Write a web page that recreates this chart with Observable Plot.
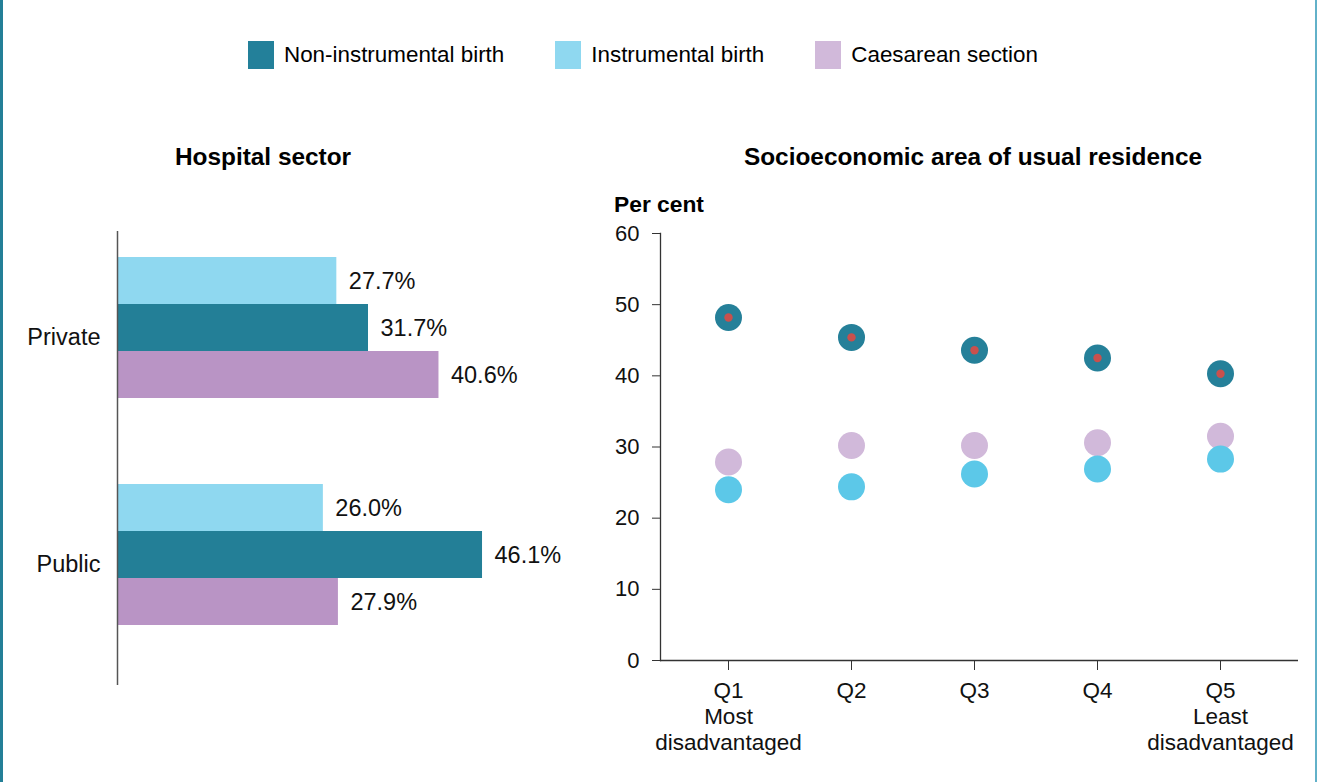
<!DOCTYPE html>
<html><head><meta charset="utf-8">
<script src="https://cdn.jsdelivr.net/npm/d3@7"></script>
<script src="https://cdn.jsdelivr.net/npm/@observablehq/plot@0.6"></script>
<style>
html,body{margin:0;padding:0;background:#fff;}
#root{position:relative;width:1317px;height:782px;overflow:hidden;font-family:"Liberation Sans",Arial,sans-serif;color:#000;background:#fff;}
.abs{position:absolute;}
.edgeL{left:0;top:0;width:3px;height:782px;background:#237f97;}
.edgeR{left:1315px;top:0;width:2px;height:782px;background:#62b1c9;}
#legend{left:248px;top:41px;display:flex;gap:51px;align-items:center;font-size:22.4px;}
.item{display:flex;align-items:center;gap:10px;}
.sw{width:26px;height:28px;}
.title{font-weight:bold;font-size:24.4px;text-align:center;transform:translateX(-50%);white-space:nowrap;}
.plot{position:absolute;top:0;}
</style></head>
<body><div id="root">
<div class="abs edgeL"></div><div class="abs edgeR"></div>
<div id="legend" class="abs"></div>
<div class="abs title" style="left:263px;top:143px;">Hospital sector</div>
<div class="abs title" style="left:973px;top:143px;">Socioeconomic area of usual residence</div>
<div class="abs" style="left:614px;top:191px;font-weight:bold;font-size:22.8px;">Per cent</div>
<div id="left" class="plot" style="left:0;"></div>
<div id="right" class="plot" style="left:600px;"></div>
</div>
<script>
// ---- data ----
const series = ["Non-instrumental birth", "Instrumental birth", "Caesarean section"];
const legendColors = ["#23809a", "#8fd8f0", "#d1b9da"];
const barColors = ["#237f97", "#8fd8f0", "#b994c5"];
const dotColors = ["#258099", "#5cc8e8", "#d1b9da"];
const markerColor = "#c9504d";

const sectors = ["Private", "Public"];
const sectorNonInstrumental = [31.7, 46.1];
const sectorInstrumental = [27.7, 26.0];
const sectorCaesarean = [40.6, 27.9];
const barOrder = ["Instrumental birth", "Non-instrumental birth", "Caesarean section"];

const quintiles = ["Q1", "Q2", "Q3", "Q4", "Q5"];
const quintileLabels = ["Q1\nMost\ndisadvantaged", "Q2", "Q3", "Q4", "Q5\nLeast\ndisadvantaged"];
const quintNonInstrumental = [48.2, 45.4, 43.6, 42.5, 40.3];
const quintInstrumental = [24.0, 24.4, 26.2, 26.9, 28.3];
const quintCaesarean = [27.9, 30.2, 30.2, 30.6, 31.5];
const yTicks = [0, 10, 20, 30, 40, 50, 60];

// ---- legend ----
const legend = document.getElementById("legend");
series.forEach((s, i) => {
  const it = document.createElement("div"); it.className = "item";
  const sw = document.createElement("div"); sw.className = "sw"; sw.style.background = legendColors[i];
  const tx = document.createElement("span"); tx.textContent = s;
  it.appendChild(sw); it.appendChild(tx); legend.appendChild(it);
});

const font = '"Liberation Sans", Arial, sans-serif';

// ---- left: hospital sector ----
const barRows = sectors.flatMap((s, i) => [
  {sector: s, series: "Instrumental birth", value: sectorInstrumental[i]},
  {sector: s, series: "Non-instrumental birth", value: sectorNonInstrumental[i]},
  {sector: s, series: "Caesarean section", value: sectorCaesarean[i]}
]);

const left = Plot.plot({
  width: 600, height: 782,
  marginLeft: 117, marginRight: 0, marginTop: 230, marginBottom: 97,
  x: {domain: [0, 61], axis: null},
  y: {domain: barOrder, paddingInner: 0, paddingOuter: 0.903, align: 0.3, axis: null},
  fy: {domain: sectors, padding: 0, label: null},
  color: {domain: series, range: barColors},
  style: {fontFamily: font, fontSize: "23.5px", color: "#000", background: "transparent", overflow: "visible"},
  marks: [
    Plot.barX(barRows, {x: "value", y: "series", fy: "sector", fill: "series"}),
    Plot.text(barRows, {x: "value", y: "series", fy: "sector", text: d => d.value.toFixed(1) + "%",
      textAnchor: "start", dx: 12, fontSize: 23.5, fill: "#111"}),
    Plot.ruleX([0], {stroke: "#555", strokeWidth: 1.5}),
    Plot.axisFy({anchor: "left", tickSize: 0, tickPadding: 17, fontSize: 23.5, dy: -8, label: null, fill: "#111"})
  ]
});
document.getElementById("left").appendChild(left);

// ---- right: socioeconomic area ----
const dotRows = quintiles.flatMap((q, i) => [
  {q, series: "Caesarean section", value: quintCaesarean[i]},
  {q, series: "Instrumental birth", value: quintInstrumental[i]},
  {q, series: "Non-instrumental birth", value: quintNonInstrumental[i]}
]);
const markerRows = quintiles.map((q, i) => ({q, value: quintNonInstrumental[i]}));

const right = Plot.plot({
  width: 717, height: 782,
  marginLeft: 60, marginRight: 19, marginTop: 233, marginBottom: 122,
  x: {domain: quintiles, type: "point", padding: 0.593, align: 0.466},
  y: {domain: [0, 60]},
  color: {domain: series, range: dotColors},
  style: {fontFamily: font, fontSize: "22px", color: "#000", background: "transparent", overflow: "visible"},
  marks: [
    Plot.frame({anchor: "left", stroke: "#333", strokeWidth: 1.3}),
    Plot.ruleY([0], {stroke: "#333", strokeWidth: 1.3}),
    Plot.axisY({ticks: yTicks, tickSize: 8, tickPadding: 13, fontSize: 22, label: null, stroke: "#333", fill: "#111"}),
    Plot.axisX({tickSize: 10, tickPadding: 9, fontSize: 22.5, lineHeight: 1.16, label: null, stroke: "#333", fill: "#111",
      tickFormat: d => quintileLabels[quintiles.indexOf(d)]}),
    Plot.dot(dotRows, {x: "q", y: "value", fill: "series", r: 13.5}),
    Plot.dot(markerRows, {x: "q", y: "value", fill: markerColor, r: 4.2})
  ]
});
document.getElementById("right").appendChild(right);
</script>
</body></html>
